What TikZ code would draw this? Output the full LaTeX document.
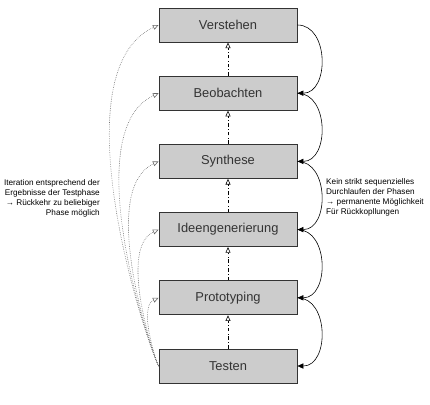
\documentclass[tikz,border=0pt]{standalone}
\usepackage{fontspec}
\setmainfont{Liberation Sans}
\usetikzlibrary{arrows.meta}
\definecolor{boxgray}{RGB}{204,204,204}
\definecolor{edgegray}{RGB}{51,51,51}
\begin{document}
\begin{tikzpicture}[
 phase/.style = {draw=edgegray, line width=0.8pt, fill=boxgray, text=edgegray,
   minimum width=4.14cm, minimum height=1.02cm, inner sep=0pt,
   font=\fontsize{11}{13}\selectfont},
 upward/.style = {dash dot, line width=0.5pt, -{Triangle[open, length=1.7mm, width=1.5mm]}},
 feedback/.style = {line width=0.5pt, -{Triangle[length=1.8mm, width=1.6mm]},
   out=0, in=0, looseness=1.2},
 iteration/.style = {densely dotted, gray!80!black, line width=0.5pt,
   -{Triangle[open, length=1.7mm, width=1.5mm]},
   out=115, in=205, out looseness=0.3, in looseness=0.82},
 remark/.style = {font=\fontsize{7}{8.5}\selectfont, inner sep=0pt}]
\useasboundingbox (0, 0) rectangle (12.9, -12.12);
% phases
\node[phase] (verstehen) at (6.84, -0.75) {Verstehen};
\node[phase] (beobachten) at (6.84, -2.796) {Beobachten};
\node[phase] (synthese) at (6.84, -4.842) {Synthese};
\node[phase] (ideen) at (6.84, -6.888) {Ideengenerierung};
\node[phase] (prototyping) at (6.84, -8.934) {Prototyping};
\node[phase] (testen) at (6.84, -10.98) {Testen};
% sequence
\draw[upward] (beobachten.north) -- (verstehen.south);
\draw[upward] (synthese.north) -- (beobachten.south);
\draw[upward] (ideen.north) -- (synthese.south);
\draw[upward] (prototyping.north) -- (ideen.south);
\draw[upward] (testen.north) -- (prototyping.south);
% right side
\draw[feedback] (verstehen.east) to (beobachten.east);
\draw[feedback] (beobachten.east) to (synthese.east);
\draw[feedback] (synthese.east) to (ideen.east);
\draw[feedback] (ideen.east) to (prototyping.east);
\draw[feedback] (prototyping.east) to (testen.east);
% left side
\draw[iteration] (testen.west) to (verstehen.west);
\draw[iteration] (testen.west) to (beobachten.west);
\draw[iteration] (testen.west) to (synthese.west);
\draw[iteration] (testen.west) to (ideen.west);
\draw[iteration] (testen.west) to (prototyping.west);
% remarks
\node[remark, align=right, anchor=east] (iterText) at (3.0, -5.94)
 {Iteration entsprechend der\\Ergebnisse der Testphase\\→ Rückkehr zu beliebiger\\Phase möglich};
\node[remark, align=left, anchor=west] (seqText) at (9.78, -5.91)
 {Kein strikt sequenzielles\\Durchlaufen der Phasen\\→ permanente Möglichkeit\\Für Rückkopllungen};
\end{tikzpicture}
\end{document}
